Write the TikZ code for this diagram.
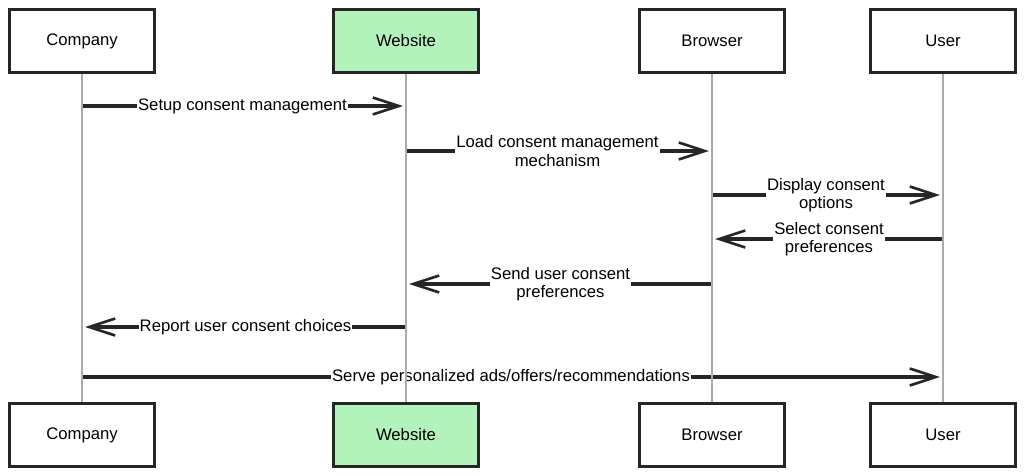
\documentclass[tikz,border=0pt]{standalone}
\usepackage{fontspec}
\setmainfont{Liberation Sans}
\usetikzlibrary{arrows.meta,positioning}
\definecolor{sitegreen}{HTML}{B2F2BB}
\definecolor{lifegray}{HTML}{ABABAB}

\begin{document}
\begin{tikzpicture}[
    x=0.02cm, y=-0.02cm,
    font=\fontsize{9.5}{10.5}\selectfont,
    actor/.style={draw=black!85, line width=1.5pt, minimum width=2.9cm, minimum height=1.26cm, inner sep=0pt},
    lifeline/.style={draw=lifegray, line width=0.6pt},
    msg/.style={draw=black!85, -{Straight Barb[length=0.52cm, width=0.34cm, line width=1.5pt]}, line width=1.9pt},
    msglabel/.style={fill=white, align=center, inner xsep=0.6pt, inner ysep=0pt}
]
\useasboundingbox (0,0) rectangle (1024,476);
% participants, top row
\node[actor] (company) at (82,41) {Company};
\node[actor, fill=sitegreen] (website) at (406,41) {Website};
\node[actor] (browser) at (712,41) {Browser};
\node[actor] (user) at (943,41) {User};
% participants, bottom row
\node[actor] (company2) at (82,435) {Company};
\node[actor, fill=sitegreen] (website2) at (406,435) {Website};
\node[actor] (browser2) at (712,435) {Browser};
\node[actor] (user2) at (943,435) {User};
% message ends on the lifelines
\coordinate (c1) at (82,106);  \coordinate (w1) at (403,106);
\coordinate (w2) at (406,151); \coordinate (b2) at (709,151);
\coordinate (b3) at (712,195); \coordinate (u3) at (940,195);
\coordinate (u4) at (943,239); \coordinate (b4) at (715,239);
\coordinate (b5) at (712,284); \coordinate (w5) at (409,284);
\coordinate (w6) at (406,327); \coordinate (c6) at (85,327);
\coordinate (c7) at (82,377);  \coordinate (u7) at (940,377);
% messages
\draw[msg] (c1) -- node[msglabel] {Setup consent management} (w1);
\draw[msg] (w2) -- node[msglabel] {Load consent management\\ mechanism} (b2);
\draw[msg] (b3) -- node[msglabel] {Display consent\\ options} (u3);
\draw[msg] (u4) -- node[msglabel] {Select consent\\ preferences} (b4);
\draw[msg] (b5) -- node[msglabel] {Send user consent\\ preferences} (w5);
\draw[msg] (w6) -- node[msglabel] {Report user consent choices} (c6);
\draw[msg] (c7) -- node[msglabel] {Serve personalized ads/offers/recommendations} (u7);
% lifelines
\draw[lifeline] (company) -- (company2);
\draw[lifeline] (website) -- (website2);
\draw[lifeline] (browser) -- (browser2);
\draw[lifeline] (user) -- (user2);
\end{tikzpicture}
\end{document}
